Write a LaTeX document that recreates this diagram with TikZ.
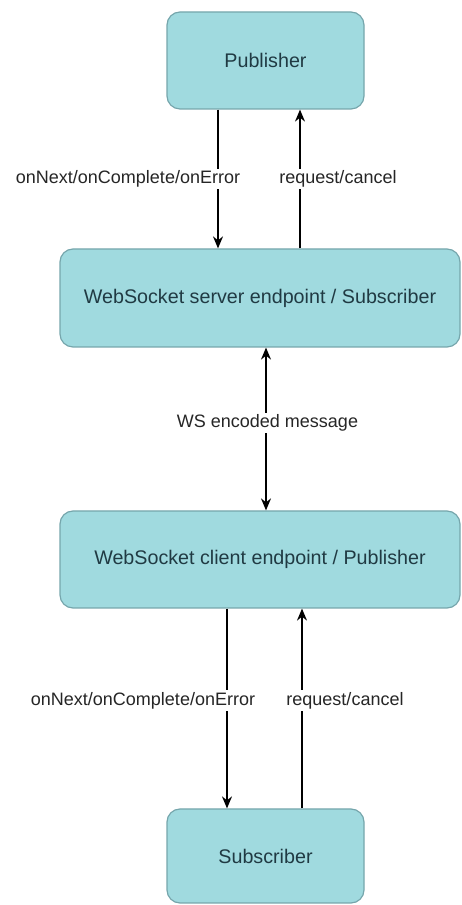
\documentclass[tikz,border=0pt]{standalone}
\usepackage{fontspec}
\setmainfont{Liberation Sans}
\usepackage{tikz}
\usetikzlibrary{positioning, arrows.meta, calc}
\definecolor{cBox}{RGB}{160,218,223}
\definecolor{cLine}{RGB}{118,166,172}
\definecolor{cText}{RGB}{32,58,67}

\begin{document}
\begin{tikzpicture}[x=1pt, y=1pt, thick,
                    box/.style={rectangle, rounded corners=13pt, fill=cBox, draw=cLine, line width=1.2pt,
                                text=cText, font=\fontsize{19.7}{23}\selectfont},
                    flow/.style={-{Stealth[length=12pt, width=10pt]}, line width=1.4pt, black},
                    lbl/.style={fill=white, inner sep=2pt, text=black!85, font=\fontsize{18}{21}\selectfont}]

    \useasboundingbox (0,0) rectangle (461,905);

    % Boxes
    \node[box, minimum width=197pt, minimum height=97pt] (pub) at (265.5, 844.5) {Publisher};
    \node[box, minimum width=400pt, minimum height=98pt] (srv) at (260, 607) {WebSocket server endpoint / Subscriber};
    \node[box, minimum width=400pt, minimum height=97pt] (cli) at (260, 345.5) {WebSocket client endpoint / Publisher};
    \node[box, minimum width=197pt, minimum height=94pt] (sub) at (265.5, 49) {Subscriber};

    % Publisher <-> server
    \draw[flow] ([xshift=-47.5pt]pub.south) -- node[lbl, xshift=-90pt] {onNext/onComplete/onError} ([xshift=-42pt]srv.north);
    \draw[flow] ([xshift=40pt]srv.north) -- node[lbl, xshift=38pt] {request/cancel} ([xshift=34.5pt]pub.south);

    % Server <-> client
    \draw[flow, {Stealth[length=12pt, width=10pt]}-{Stealth[length=12pt, width=10pt]}]
        ([xshift=6pt]srv.south) -- node[lbl, xshift=1.5pt, yshift=6pt] {WS encoded message} ([xshift=6pt]cli.north);

    % Client <-> subscriber
    \draw[flow] ([xshift=-33pt]cli.south) -- node[lbl, xshift=-84pt, yshift=8pt] {onNext/onComplete/onError} ([xshift=-38.5pt]sub.north);
    \draw[flow] ([xshift=36.5pt]sub.north) -- node[lbl, xshift=43pt, yshift=8pt] {request/cancel} ([xshift=42pt]cli.south);

\end{tikzpicture}
\end{document}
